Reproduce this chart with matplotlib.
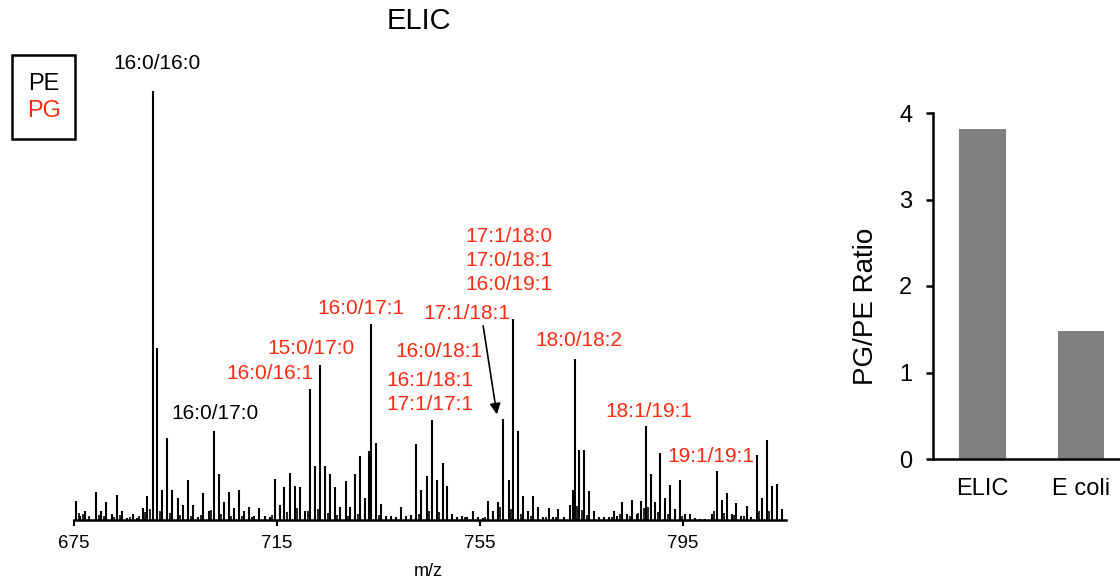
import matplotlib
matplotlib.use('Agg')
import matplotlib.pyplot as plt
from matplotlib.patches import Rectangle

plt.rcParams['font.family'] = ['Liberation Sans', 'DejaVu Sans']

# spectrum peaks (m/z, relative intensity %)
mz = [675.4, 676.2, 677.2, 679.3, 680.4, 681.4, 682.4, 683.4, 684.5, 685.4,
      686.6, 687.5, 688.5, 689.4, 690.5, 691.4, 692.4, 693.4, 694.4, 695.4,
      696.4, 697.4, 698.4, 699.4, 700.5, 701.5, 702.5, 703.5, 704.5, 705.5,
      706.5, 707.5, 708.5, 709.5, 710.5, 711.5, 712.6, 713.6, 714.5, 715.5,
      716.4, 717.5, 718.5, 719.5, 720.5, 721.5, 722.5, 723.4, 724.4, 725.4,
      726.4, 727.4, 728.5, 729.4, 730.4, 731.4, 732.3, 733.1, 733.5, 734.5,
      735.5, 736.5, 737.5, 738.4, 739.5, 740.4, 741.4, 742.4, 743.4, 744.5,
      745.5, 746.5, 747.6, 748.5, 749.5, 750.5, 751.5, 752.5, 753.6, 754.5,
      755.5, 756.6, 757.6, 758.6, 759.6, 760.6, 761.5, 762.5, 763.5, 764.5,
      765.5, 766.5, 767.4, 768.5, 769.4, 770.4, 771.5, 772.7, 773.3, 773.7,
      774.5, 775.5, 776.5, 777.5, 778.4, 779.4, 780.4, 781.3, 782.0, 782.9,
      783.9, 785.0, 785.9, 786.7, 787.6, 788.6, 789.5, 790.4, 791.4, 792.4,
      793.4, 794.3, 795.4, 796.4, 797.4, 798.3, 799.3, 800.6, 801.6, 802.6,
      803.6, 804.6, 805.5, 806.4, 807.5, 808.4, 809.5, 810.5, 811.5, 812.5,
      813.5, 814.5]
intensity = [4.5, 1.0, 2.0, 6.6, 2.0, 4.3, 1.3, 5.9, 2.2, 0.5,
             1.5, 0.5, 2.7, 5.5, 100.0, 40.0, 6.9, 19.0, 6.9, 5.2,
             3.6, 9.2, 3.6, 0.7, 6.2, 2.0, 20.8, 10.6, 4.1, 6.6,
             2.7, 7.1, 2.2, 3.1, 1.0, 2.7, 1.0, 0.8, 9.6, 3.5,
             7.6, 11.0, 7.9, 7.6, 2.2, 30.5, 12.5, 36.2, 12.5, 10.6,
             7.6, 3.0, 9.0, 3.0, 10.7, 14.8, 5.1, 16.0, 45.7, 18.0,
             3.7, 1.0, 1.0, 0.8, 3.1, 1.0, 1.2, 17.7, 6.9, 10.2,
             23.3, 9.4, 13.3, 8.0, 1.5, 0.7, 0.9, 0.7, 2.0, 0.7,
             0.5, 4.4, 2.0, 4.3, 23.5, 9.2, 46.8, 20.8, 5.5, 2.2,
             5.5, 3.0, 0.8, 2.7, 0.8, 2.5, 0.8, 3.4, 6.9, 37.4,
             16.2, 16.2, 6.7, 2.2, 0.8, 0.6, 0.6, 2.2, 1.0, 4.3,
             1.5, 4.7, 1.5, 4.5, 21.9, 10.7, 4.3, 15.6, 5.1, 8.2,
             2.6, 9.2, 1.5, 1.5, 0.4, 0.3, 0.3, 1.5, 11.5, 4.7,
             6.3, 1.5, 4.0, 1.0, 3.2, 0.8, 15.1, 5.1, 18.6, 7.8,
             8.4, 2.6]

# small in-between peaks that thicken the baseline
minor_mz = [675.9, 676.7, 678.0, 679.9, 681.0, 682.9, 684.0, 686.0, 687.9, 689.0,
            690.0, 692.0, 693.9, 695.9, 698.0, 700.0, 702.0, 704.0, 706.0, 708.0,
            710.0, 714.0, 716.9, 719.0, 721.0, 723.0, 725.0, 726.9, 729.0, 731.0,
            735.0, 742.9, 745.0, 747.0, 752.0, 756.0, 759.0, 761.0, 763.0, 765.0,
            768.0, 770.0, 774.1, 775.1, 776.0, 780.9, 782.5, 784.5, 786.2, 787.2,
            788.1, 790.0, 792.0, 794.8, 801.1, 803.1, 805.0, 807.0, 810.0, 812.0]
minor_int = [1.6, 1.4, 0.9, 1.2, 1.0, 0.8, 1.1, 0.7, 1.0, 1.8,
             2.5, 2.0, 1.6, 1.2, 1.0, 1.1, 2.4, 1.5, 1.0, 0.9,
             0.6, 1.2, 1.9, 2.8, 2.0, 2.5, 1.6, 1.2, 1.0, 1.5,
             1.1, 1.3, 2.2, 1.8, 0.6, 0.8, 3.0, 2.6, 1.3, 1.0,
             0.7, 0.6, 3.2, 2.4, 1.2, 0.8, 1.4, 1.0, 1.6, 2.8,
             3.0, 1.8, 1.4, 1.0, 2.0, 1.6, 1.2, 1.0, 2.2, 2.0]

# peak annotations: text, m/z, intensity, colour
label_text = ['16:0/16:0', '16:0/17:0', '16:0/16:1', '15:0/17:0', '16:0/17:1',
              '17:1/18:0', '17:0/18:1', '16:0/19:1', '17:1/18:1', '16:0/18:1',
              '16:1/18:1', '17:1/17:1', '18:0/18:2', '18:1/19:1', '19:1/19:1']
label_mz = [691.4, 702.7, 713.6, 721.7, 731.5,
            760.6, 760.6, 760.6, 752.3, 746.8,
            745.2, 745.2, 774.4, 788.3, 800.5]
label_int = [106.2, 24.9, 34.1, 39.9, 49.2,
             66.1, 60.4, 54.8, 48.1, 39.2,
             32.5, 26.8, 41.9, 25.3, 14.8]
label_col = ['k', 'k', 'r', 'r', 'r',
             'r', 'r', 'r', 'r', 'r',
             'r', 'r', 'r', 'r', 'r']

groups = ['ELIC', 'E coli']
ratio = [3.82, 1.48]

red = '#ff2a12'

fig = plt.figure(figsize=(11.2, 5.82), dpi=100)

# spectrum
ax = fig.add_axes([74 / 1120, 1 - 520 / 582, 711.7 / 1120, 480 / 582])
ax.vlines(mz, 0, intensity, color='black', lw=1.5)
ax.vlines(minor_mz, 0, minor_int, color='black', lw=1.2)
ax.set_xlim(675, 815.2)
ax.set_ylim(0, 111.76)
ax.set_xticks([675, 715, 755, 795])
ax.tick_params(axis='x', direction='out', length=4.5, width=1.5, labelsize=13.5, pad=6)
ax.set_yticks([])
for s in ['left', 'right', 'top']:
    ax.spines[s].set_visible(False)
ax.spines['bottom'].set_linewidth(1.8)

for t, x, y, c in zip(label_text, label_mz, label_int, label_col):
    ax.text(x, y, t, color=red if c == 'r' else 'black', fontsize=15,
            ha='center', va='center')

ax.annotate('', xy=(758.3, 24.6), xytext=(755.6, 45.2),
            arrowprops=dict(arrowstyle='-|>', color='black', lw=1.2,
                            mutation_scale=16, shrinkA=0, shrinkB=0))

fig.text(419 / 1120, 1 - 21 / 582, 'ELIC', fontsize=21, ha='center', va='center')
fig.text(428 / 1120, 1 - 571 / 582, 'm/z', fontsize=13, ha='center', va='center')

# PE / PG key
fig.patches.append(Rectangle((12 / 1120, 1 - 139 / 582), 63 / 1120, 84 / 582,
                             transform=fig.transFigure, fill=False,
                             edgecolor='black', lw=1.8))
fig.text(44 / 1120, 1 - 84 / 582, 'PE', fontsize=17, ha='center', va='center')
fig.text(44 / 1120, 1 - 111 / 582, 'PG', fontsize=17, ha='center', va='center',
         color=red)

# PG/PE ratio bars
bx = fig.add_axes([933 / 1120, 1 - 459 / 582, 192 / 1120, 346 / 582])
bx.bar(range(len(groups)), ratio, width=0.47, color='#808080')
bx.set_xlim(-0.5025, 1.447)
bx.set_ylim(0, 4)
bx.set_yticks([0, 1, 2, 3, 4])
bx.set_xticks(range(len(groups)))
bx.set_xticklabels(groups)
bx.tick_params(axis='y', direction='out', length=5, width=1.8, labelsize=17, pad=10)
bx.tick_params(axis='x', length=0, labelsize=17, pad=14)
for s in ['right', 'top']:
    bx.spines[s].set_visible(False)
for s in ['left', 'bottom']:
    bx.spines[s].set_linewidth(1.8)
fig.text(866 / 1120, 1 - 306 / 582, 'PG/PE Ratio', fontsize=20, rotation=90,
         ha='center', va='center')

fig.savefig('out.png', dpi=100)
